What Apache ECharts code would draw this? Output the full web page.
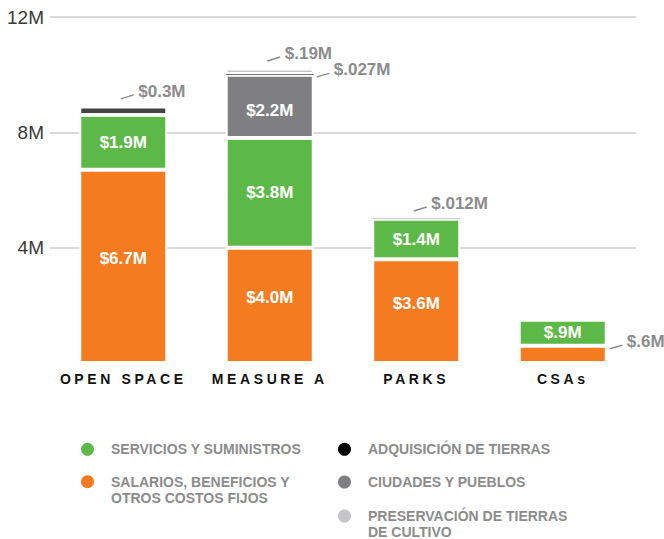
<!DOCTYPE html>
<html><head><meta charset="utf-8">
<script src="https://cdn.jsdelivr.net/npm/echarts@6/dist/echarts.min.js"></script>
<style>
html,body{margin:0;padding:0;background:#fff;}
#chart{width:664px;height:539px;}
#chart text[style*="14.01px"]{letter-spacing:3.6px;}
</style></head><body><div id="chart"></div>
<script>
// ---- data ----
const categories = ['OPEN SPACE', 'MEASURE A', 'PARKS', 'CSAs'];
const yTickValues = [0, 4, 8, 12];
const yTickLabels = ['', '4M', '8M', '12M'];

const salarios = [6.7, 4.0, 3.6, 0.6];
const servicios = [1.9, 3.8, 1.4, 0.9];
const ciudades = [null, 2.2, null, null];
const adquisicion = [0.3, 0.027, 0.012, null];
const preservacion = [null, 0.19, null, null];

const salariosLabels = ['$6.7M', '$4.0M', '$3.6M', '$.6M'];
const serviciosLabels = ['$1.9M', '$3.8M', '$1.4M', '$.9M'];
const ciudadesLabels = ['', '$2.2M', '', ''];
const adquisicionLabels = ['$0.3M', '$.027M', '$.012M', ''];
const preservacionLabels = ['', '$.19M', '', ''];

const seriesNames = ['SALARIOS, BENEFICIOS Y OTROS COSTOS FIJOS', 'SERVICIOS Y SUMINISTROS',
  'CIUDADES Y PUEBLOS', 'ADQUISICIÓN DE TIERRAS', 'PRESERVACIÓN DE TIERRAS DE CULTIVO'];
const legendTexts = ['SALARIOS, BENEFICIOS Y\nOTROS COSTOS FIJOS', 'SERVICIOS Y SUMINISTROS',
  'CIUDADES Y PUEBLOS', 'ADQUISICIÓN DE TIERRAS', 'PRESERVACIÓN DE TIERRAS\nDE CULTIVO'];

// ---- styles ----
const FONT = '"Liberation Sans", Arial, Helvetica, sans-serif';
const colors = ['#f47b20', '#5cb947', '#7f7f82', '#444444', '#c6c6c8'];
const legendColors = ['#f47b20', '#5cb947', '#7f7f82', '#000000', '#c6c6c8'];
const labelOffsets = [[0, -8], [0, 0], [0, 4], [0, 0], [0, 0]];
const BAR_W = 88;
const SMALL = 0.8;
const GRAY_TEXT = '#8c8c8c';

const stack = [
  { values: salarios, labels: salariosLabels },
  { values: servicios, labels: serviciosLabels },
  { values: ciudades, labels: ciudadesLabels },
  { values: adquisicion, labels: adquisicionLabels },
  { values: preservacion, labels: preservacionLabels }
];

// annotations for small segments (outside labels)
const annotations = [];
categories.forEach((c, i) => {
  let lastIdx = -1;
  stack.forEach((s, k) => { if (s.values[i]) lastIdx = k; });
  let cum = 0;
  stack.forEach((s, k) => {
    const v = s.values[i];
    if (!v) return;
    cum += v;
    if (v < SMALL) annotations.push({ cat: i, value: cum, text: s.labels[i], kind: k === lastIdx ? 'top' : 'right' });
  });
});

const barSeries = stack.map((s, k) => ({
  name: seriesNames[k],
  type: 'bar',
  stack: 'total',
  barWidth: BAR_W,
  z: k === 3 ? 3 : 2,
  itemStyle: { color: colors[k], borderColor: '#fff', borderWidth: 2 },
  label: {
    show: true, position: 'inside', color: '#fff', fontSize: 17, fontWeight: 'bold',
    fontFamily: FONT, offset: labelOffsets[k],
    formatter: p => s.labels[p.dataIndex]
  },
  emphasis: { disabled: true },
  data: s.values.map(v => v == null ? null : ({
    value: v,
    label: { show: v >= SMALL },
    itemStyle: v < 0.1 ? { borderWidth: 0 } : {}
  }))
}));

const annotationSeries = {
  type: 'custom',
  z: 6,
  clip: false,
  silent: true,
  data: annotations.map(a => [a.cat, a.value]),
  renderItem: (params, api) => {
    const a = annotations[params.dataIndex];
    const p = api.coord([api.value(0), api.value(1)]);
    let lx1, ly1, lx2, ly2, tx, ty;
    if (a.kind === 'top') {
      lx1 = p[0] - 2.5; ly1 = p[1] - 7.5; lx2 = p[0] + 10.5; ly2 = p[1] - 11.5;
      tx = p[0] + 15; ty = p[1] - 14.5;
    } else {
      const ex = p[0] + BAR_W / 2;
      lx1 = ex + 3; ly1 = p[1] + 3; lx2 = ex + 15.5; ly2 = p[1] - 0.5;
      tx = ex + 20; ty = p[1] - 4;
    }
    return {
      type: 'group', children: [
        { type: 'line', shape: { x1: lx1, y1: ly1, x2: lx2, y2: ly2 }, style: { stroke: GRAY_TEXT, lineWidth: 1.5 } },
        { type: 'text', style: { text: a.text, x: tx, y: ty, fill: GRAY_TEXT, font: 'bold 17px ' + FONT, align: 'left', verticalAlign: 'middle' } }
      ]
    };
  }
};

// legends: one per item, two columns
const legendLayout = [
  { k: 1, left: 81, top: 441.3 },
  { k: 0, left: 81, top: 457.7, multi: true },
  { k: 3, left: 338, top: 441.3 },
  { k: 2, left: 338, top: 474 },
  { k: 4, left: 338, top: 492, multi: true }
];
const legends = legendLayout.map(l => ({
  left: l.left, top: l.top, orient: 'vertical', padding: 0,
  itemWidth: 37, itemHeight: 13, icon: 'circle', selectedMode: false,
  itemStyle: { borderWidth: 0 },
  data: [{ name: seriesNames[l.k], itemStyle: { color: legendColors[l.k], borderWidth: 0 } }],
  // multi-line entries: a leading blank line keeps the first text line level with the marker
  formatter: () => (l.multi ? '\n' : '') + legendTexts[l.k],
  textStyle: {
    color: GRAY_TEXT, fontSize: 14, fontWeight: 'bold', fontFamily: FONT, lineHeight: 16
  }
}));

const chart = echarts.init(document.getElementById('chart'), null, { renderer: 'svg' });
chart.setOption({
  animation: false,
  backgroundColor: '#fff',
  textStyle: { fontFamily: FONT },
  grid: { left: 50, right: 28, top: 17, bottom: 176, containLabel: false },
  xAxis: {
    type: 'category', data: categories,
    axisLine: { show: false }, axisTick: { show: false },
    axisLabel: { fontSize: 14.01, fontWeight: 'bold', color: '#111', margin: 9, fontFamily: FONT }
  },
  yAxis: {
    type: 'value', min: 0, max: 12, interval: 4,
    axisLine: { show: false }, axisTick: { show: false },
    splitLine: { showMinLine: false, lineStyle: { color: '#dadada', width: 2 } },
    axisLabel: {
      fontSize: 19, color: '#3a3a3a', margin: 6, fontFamily: FONT,
      formatter: v => yTickLabels[yTickValues.indexOf(v)] || ''
    }
  },
  legend: legends,
  series: [...barSeries, annotationSeries]
});
</script></body></html>
